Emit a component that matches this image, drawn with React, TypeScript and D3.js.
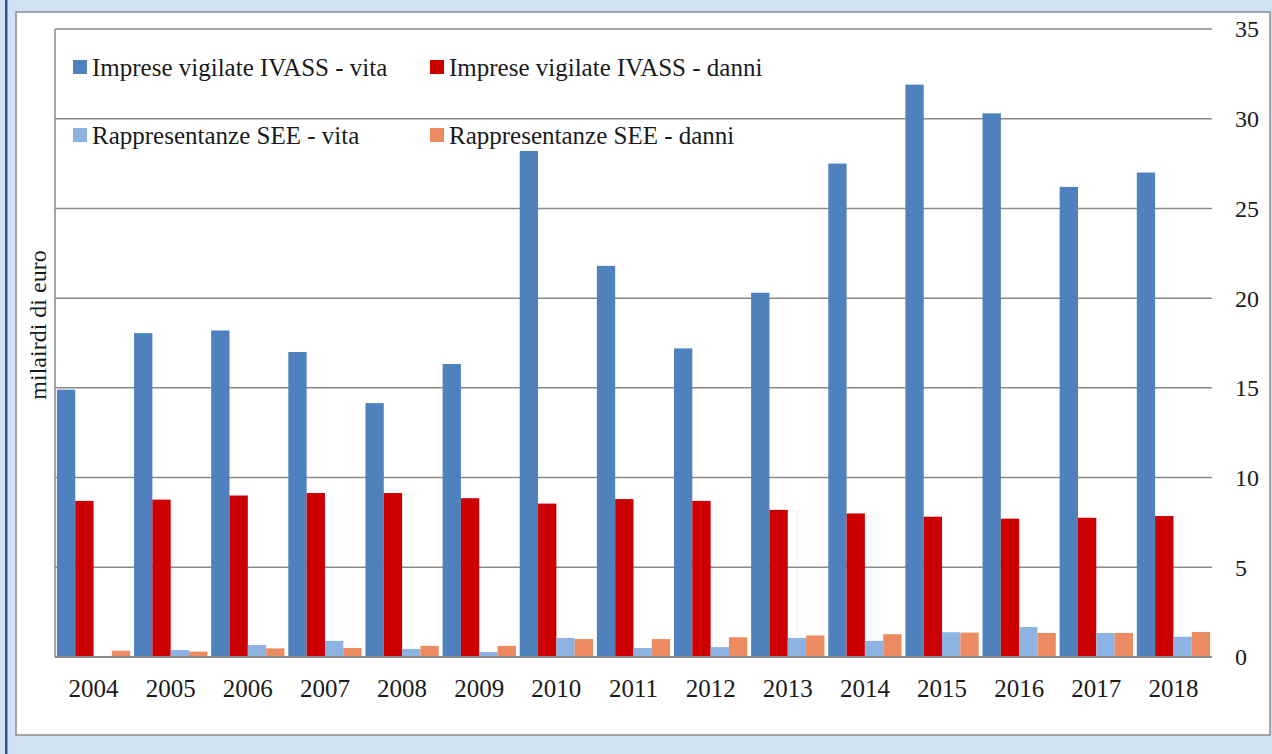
import React from "react";
import * as d3 from "d3";

const years = ["2004","2005","2006","2007","2008","2009","2010","2011","2012","2013","2014","2015","2016","2017","2018"];
const impreseVita = [14.9, 18.05, 18.2, 17.0, 14.15, 16.33, 28.2, 21.8, 17.2, 20.3, 27.5, 31.9, 30.3, 26.2, 27.0];
const impreseDanni = [8.7, 8.77, 9.0, 9.14, 9.14, 8.85, 8.55, 8.8, 8.7, 8.2, 8.0, 7.82, 7.71, 7.76, 7.86];
const seeVita = [0.06, 0.39, 0.67, 0.9, 0.45, 0.28, 1.06, 0.5, 0.55, 1.06, 0.9, 1.38, 1.67, 1.34, 1.13];
const seeDanni = [0.35, 0.3, 0.48, 0.5, 0.62, 0.62, 1.0, 1.0, 1.1, 1.2, 1.27, 1.36, 1.34, 1.34, 1.39];
const yTicks = [0, 5, 10, 15, 20, 25, 30, 35];
const seriesNames = [
  "Imprese vigilate IVASS - vita",
  "Imprese vigilate IVASS - danni",
  "Rappresentanze SEE - vita",
  "Rappresentanze SEE - danni",
];
const seriesColors = ["#4f81bd", "#cc0000", "#8db3e2", "#ec8b61"];
const yLabel = "milairdi di euro";

export default function App() {
  const W = 1272, H = 754;
  const left = 55, right = 1212, top = 29, bottom = 657;
  const fontStyle = { fontFamily: "'Liberation Serif', 'Times New Roman', serif" };
  const series = [impreseVita, impreseDanni, seeVita, seeDanni];

  const x = d3.scaleBand<string>().domain(years).range([left, right]).paddingInner(0.05).paddingOuter(0.025);
  const xs = d3.scaleBand<number>().domain([0, 1, 2, 3]).range([0, x.bandwidth()]);
  const y = d3.scaleLinear().domain([0, 35]).range([bottom, top]);

  const legendPos = [
    { x: 73, y: 67 },
    { x: 430, y: 67 },
    { x: 73, y: 135 },
    { x: 430, y: 135 },
  ];

  return (
    <svg width={W} height={H} style={{ position: "absolute", left: 0, top: 0, display: "block" }}>
      <rect x={0} y={0} width={W} height={H} fill="#d0e2f2" />
      <rect x={5} y={0} width={2.5} height={H} fill="#2f5597" />
      <rect x={16} y={12} width={1254} height={723} fill="#ffffff" stroke="#8c8c8c" strokeWidth={1.5} />

      {yTicks.map((t) => (
        <line key={"g" + t} x1={left} x2={right} y1={y(t)} y2={y(t)} stroke="#8a8a8a" strokeWidth={1.5} />
      ))}
      <line x1={left} x2={left} y1={top} y2={bottom} stroke="#8a8a8a" strokeWidth={1.5} />

      {series.map((vals, si) =>
        vals.map((v, i) => (
          <rect
            key={si + "-" + i}
            x={(x(years[i]) ?? 0) + (xs(si) ?? 0)}
            y={y(v)}
            width={xs.bandwidth()}
            height={bottom - y(v)}
            fill={seriesColors[si]}
          />
        ))
      )}
      <line x1={left} x2={right} y1={bottom} y2={bottom} stroke="#8a8a8a" strokeWidth={2} />

      {yTicks.map((t) => (
        <text key={"t" + t} x={1235} y={y(t)} dy="0.35em" fontSize={24} fill="#1a1a1a" style={fontStyle}>{t}</text>
      ))}
      {years.map((yr) => (
        <text key={"x" + yr} x={(x(yr) ?? 0) + x.bandwidth() / 2} y={688} dy="0.35em" textAnchor="middle" fontSize={25} fill="#1a1a1a" style={fontStyle}>{yr}</text>
      ))}

      <text transform="translate(46,325) rotate(-90)" textAnchor="middle" fontSize={24} fill="#1a1a1a" style={fontStyle}>{yLabel}</text>

      {seriesNames.map((n, i) => (
        <g key={"l" + i}>
          <rect x={legendPos[i].x} y={legendPos[i].y - 7} width={14} height={14} fill={seriesColors[i]} />
          <text x={legendPos[i].x + 19} y={legendPos[i].y} dy="0.35em" fontSize={25} fill="#1a1a1a" style={fontStyle}>{n}</text>
        </g>
      ))}
    </svg>
  );
}
